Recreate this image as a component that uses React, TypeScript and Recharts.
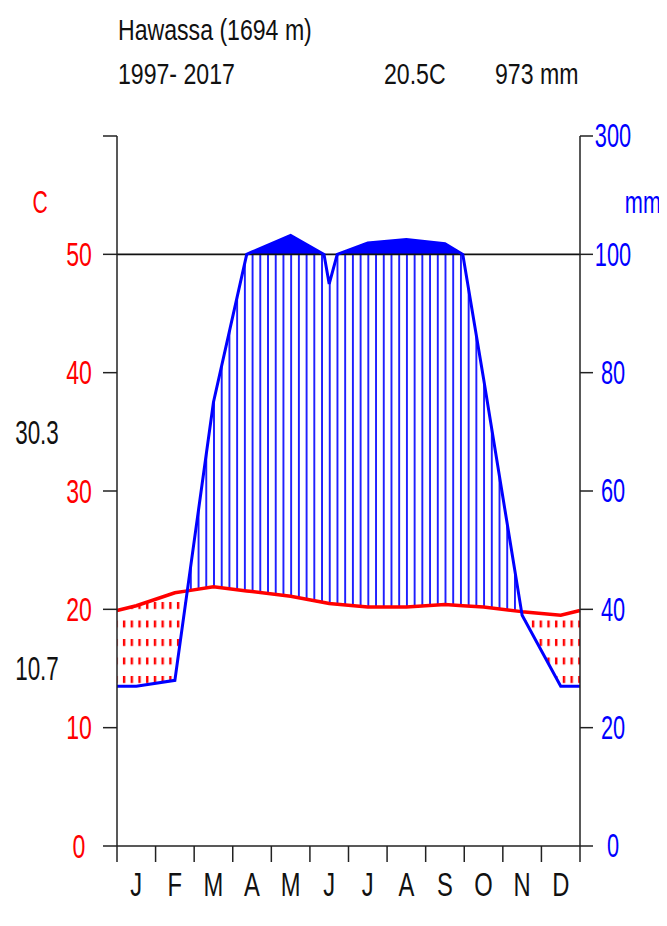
import React from 'react';
import { ComposedChart, Area, Line, XAxis, YAxis, ReferenceLine } from 'recharts';

const MONTHS = ['J', 'F', 'M', 'A', 'M', 'J', 'J', 'A', 'S', 'O', 'N', 'D'];
// monthly mean temperature (C) and precipitation (mm)
const TEMP = [20.3, 21.4, 21.9, 21.5, 21.1, 20.5, 20.2, 20.2, 20.4, 20.2, 19.8, 19.5];
const PREC = [27, 28, 75, 104, 132, 95, 119, 125, 118, 79, 39, 27];
const TEMP_TICKS = [0, 10, 20, 30, 40, 50, 60];
const PREC_TICKS = [0, 20, 40, 60, 80, 100, 300];
const MONTH_BOUNDS = [0, 1, 2, 3, 4, 5, 6, 7, 8, 9, 10, 11, 12];

const FONT = "'Liberation Sans', Arial, sans-serif";
const W = 651;
const H = 910;
const PLOT_W = 463;
const HALF_MONTH = PLOT_W / 24;
const HATCH = PLOT_W / 60;

// Walter-Lieth scale: 2 mm per degree up to 100 mm, 20 mm per degree above
const toUnits = (mm: number) => (mm <= 100 ? mm / 2 : 50 + (mm - 100) / 20);

function buildRows() {
  const edgeT = (TEMP[0] + TEMP[11]) / 2;
  const edgeP = (PREC[0] + PREC[11]) / 2;
  const knots = [
    { x: 0, t: edgeT, mm: edgeP },
    ...TEMP.map((t, i) => ({ x: i + 0.5, t, mm: PREC[i] })),
    { x: 12, t: edgeT, mm: edgeP },
  ];
  // split where rain crosses 100 mm
  const pts: { x: number; t: number; mm: number }[] = [];
  knots.forEach((a, i) => {
    pts.push(a);
    const b = knots[i + 1];
    if (b && (a.mm - 100) * (b.mm - 100) < 0) {
      const f = (100 - a.mm) / (b.mm - a.mm);
      pts.push({ x: a.x + f * (b.x - a.x), t: a.t + f * (b.t - a.t), mm: 100 });
    }
  });
  const u = pts.map((p) => ({ x: p.x, t: p.t, p: toUnits(p.mm) }));
  // split where rain crosses temperature
  const rows: { x: number; t: number; p: number }[] = [];
  u.forEach((a, i) => {
    rows.push(a);
    const b = u[i + 1];
    if (!b) return;
    const da = a.p - a.t;
    const db = b.p - b.t;
    if (da * db < 0) {
      const f = da / (da - db);
      const t = a.t + f * (b.t - a.t);
      rows.push({ x: a.x + f * (b.x - a.x), t, p: t });
    }
  });
  return rows.map((r) => ({
    ...r,
    wet: [r.t, Math.max(r.t, Math.min(r.p, 50))],
    dry: [Math.min(r.p, r.t), r.t],
    cap: [50, Math.max(r.p, 50)],
  }));
}

const rows = buildRows();

// condensed text, like the squeezed original
const T = ({ x, y, size, sx, fill = '#111', anchor = 'start', mid = false, children }: any) => (
  <text
    transform={`translate(${x},${y}) scale(${sx},1)`}
    textAnchor={anchor}
    dominantBaseline={mid ? 'central' : 'auto'}
    fontSize={size}
    fontFamily={FONT}
    fill={fill}
  >
    {children}
  </text>
);

const LeftTick = ({ x, y, payload }: any) =>
  payload.value === 60 ? null : (
    <T x={x} y={y} size={33} sx={0.7} fill="#ff0000" anchor="middle" mid>
      {payload.value}
    </T>
  );

const RightTick = ({ x, y, payload }: any) => {
  const mm = PREC_TICKS.find((v) => Math.abs(toUnits(v) - payload.value) < 1e-6);
  return (
    <T x={x} y={y} size={33} sx={0.66} fill="#0000ff" anchor="middle" mid>
      {mm}
    </T>
  );
};

const MonthTick = ({ x, y, index }: any) =>
  index >= 12 ? null : (
    <T x={x + HALF_MONTH} y={y} size={33} sx={0.72} anchor="middle" mid>
      {MONTHS[index]}
    </T>
  );

export default function App() {
  return (
    <div style={{ position: 'relative', width: W, height: H, fontFamily: FONT }}>
      <ComposedChart width={W} height={H} data={rows} margin={{ top: 128, right: 0, left: 0, bottom: 0 }}>
        <defs>
          <pattern id="wetHatch" patternUnits="userSpaceOnUse" width={HATCH} height={10} x={1.5}>
            <line x1={HATCH / 2} y1={0} x2={HATCH / 2} y2={10} stroke="#0000ff" strokeWidth={1.7} />
          </pattern>
          <pattern id="dryDots" patternUnits="userSpaceOnUse" width={HATCH} height={18.5} x={4} y={2}>
            <rect x={HATCH / 2 - 1} y={0} width={2.4} height={7} fill="#ff0000" />
          </pattern>
        </defs>
        <XAxis
          xAxisId="b"
          dataKey="x"
          type="number"
          domain={[0, 12]}
          ticks={MONTH_BOUNDS}
          height={72}
          tickSize={16}
          tickMargin={23}
          tick={<MonthTick />}
          stroke="#222"
          strokeWidth={1.5}
          interval={0}
        />
        <YAxis
          yAxisId="t"
          domain={[0, 60]}
          ticks={TEMP_TICKS}
          width={109}
          tickSize={14}
          tickMargin={24}
          tick={<LeftTick />}
          stroke="#222"
          strokeWidth={1.5}
          interval={0}
        />
        <YAxis
          yAxisId="p"
          orientation="right"
          domain={[0, 60]}
          ticks={PREC_TICKS.map(toUnits)}
          width={79}
          tickSize={13}
          tickMargin={20}
          tick={<RightTick />}
          stroke="#222"
          strokeWidth={1.5}
          interval={0}
        />
        <Area xAxisId="b" yAxisId="t" type="linear" dataKey="dry" stroke="none" fill="url(#dryDots)" fillOpacity={1} isAnimationActive={false} activeDot={false} dot={false} />
        <Area xAxisId="b" yAxisId="t" type="linear" dataKey="wet" stroke="none" fill="url(#wetHatch)" fillOpacity={1} isAnimationActive={false} activeDot={false} dot={false} />
        <Area xAxisId="b" yAxisId="p" type="linear" dataKey="cap" stroke="none" fill="#0000ff" fillOpacity={1} isAnimationActive={false} activeDot={false} dot={false} />
        <ReferenceLine xAxisId="b" yAxisId="t" y={50} stroke="#111" strokeWidth={1.6} />
        <Line xAxisId="b" yAxisId="t" type="linear" dataKey="t" stroke="#ff0000" strokeWidth={3.5} dot={false} activeDot={false} isAnimationActive={false} />
        <Line xAxisId="b" yAxisId="p" type="linear" dataKey="p" stroke="#0000ff" strokeWidth={3} dot={false} activeDot={false} isAnimationActive={false} />
      </ComposedChart>
      <svg width={659} height={H} style={{ position: 'absolute', left: 0, top: 0, pointerEvents: 'none', overflow: 'visible' }}>
        <T x={110} y={32} size={30} sx={0.77}>Hawassa (1694 m)</T>
        <T x={110} y={76} size={30} sx={0.77}>1997- 2017</T>
        <T x={376} y={76} size={30} sx={0.77}>20.5C</T>
        <T x={487} y={76} size={30} sx={0.77}>973 mm</T>
        <T x={32} y={205} size={32} sx={0.66} fill="#ff0000" anchor="middle">C</T>
        <T x={635} y={205} size={32} sx={0.68} fill="#0000ff" anchor="middle">mm</T>
        <T x={29} y={436} size={33} sx={0.68} anchor="middle">30.3</T>
        <T x={29} y={672} size={33} sx={0.68} anchor="middle">10.7</T>
      </svg>
    </div>
  );
}
